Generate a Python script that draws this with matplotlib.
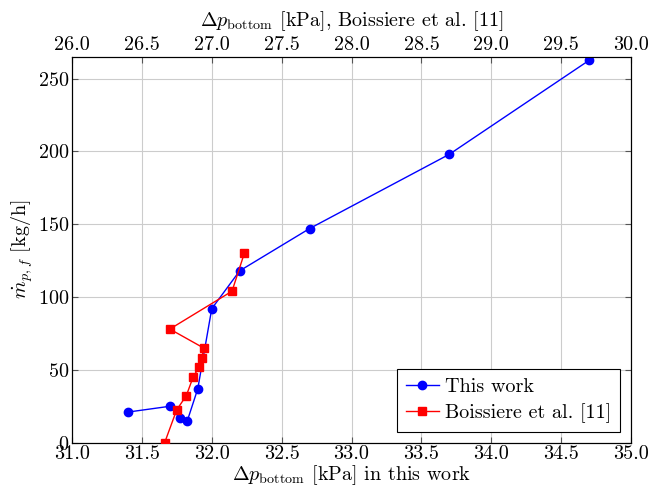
import matplotlib

matplotlib.use("Agg")
import matplotlib.pyplot as plt

# This work (bottom axis)
work_dp = [31.40, 31.70, 31.77, 31.825, 31.90, 32.00, 32.20, 32.70, 33.70, 34.70]
work_m = [21, 25, 17, 15, 37, 92, 118, 147, 198, 262.5]

# Boissiere et al. [11] (top axis)
bois_dp = [26.663, 26.749, 26.818, 26.868, 26.911, 26.930, 26.942, 26.700, 27.145, 27.233]
bois_m = [0, 22.5, 32.3, 45.4, 52, 58, 65, 78, 104, 130]

x_ticks = [31.0, 31.5, 32.0, 32.5, 33.0, 33.5, 34.0, 34.5, 35.0]
top_ticks = [26.0, 26.5, 27.0, 27.5, 28.0, 28.5, 29.0, 29.5, 30.0]
y_ticks = [0, 50, 100, 150, 200, 250]

plt.rcParams["font.family"] = "serif"
plt.rcParams["font.serif"] = ["cmr10"]
plt.rcParams["mathtext.fontset"] = "cm"
plt.rcParams["axes.formatter.use_mathtext"] = True
plt.rcParams["font.size"] = 14.5

fig = plt.figure(figsize=(6.51, 4.96), dpi=100)
ax = fig.add_axes([0.1106, 0.1075, 0.8587, 0.7782])
ax_top = ax.twiny()

l1, = ax.plot(work_dp, work_m, color="blue", marker="o", markersize=6, linewidth=1, label="This work", zorder=3)
l2, = ax_top.plot(bois_dp, bois_m, color="red", marker="s", markersize=5.5, linewidth=1, label="Boissiere et al. [11]", zorder=3)

ax.set_xlim(31.0, 35.0)
ax_top.set_xlim(26.0, 30.0)
ax.set_ylim(0, 265)
ax.set_xticks(x_ticks)
ax.set_xticklabels([f"{t:.1f}" for t in x_ticks])
ax_top.set_xticks(top_ticks)
ax_top.set_xticklabels([f"{t:.1f}" for t in top_ticks])
ax.set_yticks(y_ticks)

ax.grid(True, color="#cccccc", linewidth=0.8)
ax.set_axisbelow(True)
ax.tick_params(direction="in", length=4, color="#555555", right=True, labelsize=14.5, pad=2)
ax_top.tick_params(direction="in", length=4, color="#555555", labelsize=14.5, pad=2)

ax.set_xlabel(r"$\Delta p_{\mathrm{bottom}}$ [kPa] in this work", fontsize=14.5, labelpad=0)
ax_top.set_xlabel(r"$\Delta p_{\mathrm{bottom}}$ [kPa], Boissiere et al. [11]", fontsize=14.5, labelpad=7)
ax.set_ylabel(r"$\dot{m}_{p,f}$ [kg/h]", fontsize=14.5, labelpad=2)

leg = ax.legend(handles=[l1, l2], loc="lower right", fancybox=False, edgecolor="black",
                framealpha=1, fontsize=14.5, handlelength=1.6, handletextpad=0.3,
                labelspacing=0.35, borderpad=0.45, borderaxespad=0.55)
leg.get_frame().set_linewidth(0.8)

fig.savefig("out.png", dpi=100)
